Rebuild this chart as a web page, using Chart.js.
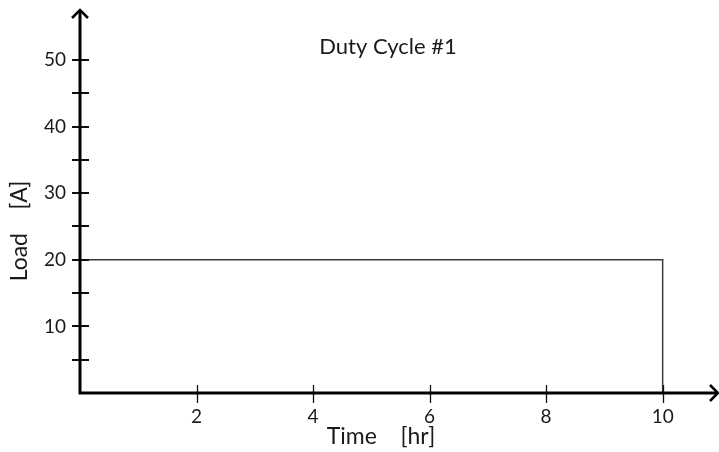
<!DOCTYPE html>
<html>
<head>
<meta charset="utf-8">
<script src="https://cdn.jsdelivr.net/npm/chart.js@4.4.1/dist/chart.umd.min.js"></script>
<style>
  html, body { margin: 0; padding: 0; background: #fff; }
  #wrap { width: 719px; height: 452px; }
</style>
</head>
<body>
<div id="wrap"><canvas id="dutyChart"></canvas></div>
<script>
// datos del ciclo de carga
const timeHr = [0, 10, 10];
const loadA = [20, 20, 0];
const xTickValues = [2, 4, 6, 8, 10];
const yTickValues = [5, 10, 15, 20, 25, 30, 35, 40, 45, 50];
const yLabelValues = [10, 20, 30, 40, 50];
const chartTitle = "Duty Cycle #1";
const xTitle = "Time    [hr]";
const yTitle = "Load    [A]";

const FONT = "Lato, 'Open Sans', sans-serif";
const TEXT = '#1a1a1a';

// ejes con flechas, marcas que cruzan el eje y textos
const axesPlugin = {
    id: 'axesArrows',
    afterDraw(chart) {
        const { ctx, chartArea: { left, right, top, bottom }, scales: { x, y } } = chart;
        ctx.save();

        ctx.strokeStyle = '#111';
        ctx.lineWidth = 2;
        yTickValues.forEach(v => {
            const py = Math.round(y.getPixelForValue(v));
            ctx.beginPath();
            ctx.moveTo(left - 8, py);
            ctx.lineTo(left + 9, py);
            ctx.stroke();
        });
        ctx.lineWidth = 1.3;
        xTickValues.forEach(v => {
            const px = Math.round(x.getPixelForValue(v)) + 0.5;
            ctx.beginPath();
            ctx.moveTo(px, bottom - 8);
            ctx.lineTo(px, bottom + 10);
            ctx.stroke();
        });

        // ejes
        ctx.strokeStyle = '#000';
        ctx.lineWidth = 3;
        ctx.beginPath();
        ctx.moveTo(left, bottom);
        ctx.lineTo(left, top + 1);
        ctx.moveTo(left - 1.5, bottom);
        ctx.lineTo(right - 1, bottom);
        ctx.stroke();

        // flechas
        ctx.lineWidth = 2.6;
        ctx.lineJoin = 'miter';
        ctx.beginPath();
        ctx.moveTo(left - 8, top + 8);
        ctx.lineTo(left, top);
        ctx.lineTo(left + 8, top + 8);
        ctx.moveTo(right - 8, bottom - 8);
        ctx.lineTo(right, bottom);
        ctx.lineTo(right - 8, bottom + 8);
        ctx.stroke();

        // textos
        ctx.fillStyle = TEXT;
        ctx.textAlign = 'center';
        ctx.textBaseline = 'middle';
        ctx.font = `22px ${FONT}`;
        ctx.fillText(chartTitle, 388, 47);
        ctx.font = `23px ${FONT}`;
        ctx.fillText(xTitle, 381, 437);
        ctx.translate(20, 231);
        ctx.rotate(-Math.PI / 2);
        ctx.fillText(yTitle, 0, 0);
        ctx.restore();
    }
};

const data = {
    datasets: [{
        data: timeHr.map((t, i) => ({ x: t, y: loadA[i] })),
        borderColor: '#3a3a3a',
        borderWidth: 1.5,
        pointRadius: 0,
        fill: false,
        tension: 0
    }]
};

const options = {
    responsive: true,
    maintainAspectRatio: false,
    animation: false,
    layout: { padding: { top: 10, right: 1, left: 0, bottom: 0 } },
    plugins: {
        legend: { display: false },
        tooltip: { enabled: false }
    },
    scales: {
        x: {
            type: 'linear',
            min: 0,
            max: 10.95,
            afterFit: s => { s.height = 59; s.paddingLeft = 0; s.paddingRight = 0; },
            afterBuildTicks: s => { s.ticks = xTickValues.map(v => ({ value: v })); },
            grid: { display: false, drawTicks: false },
            border: { display: false },
            ticks: {
                autoSkip: false,
                maxRotation: 0,
                padding: 12,
                color: TEXT,
                font: { family: FONT, size: 19 }
            }
        },
        y: {
            min: 0,
            max: 57.5,
            afterFit: s => { s.width = 80; s.paddingTop = 0; s.paddingBottom = 0; },
            afterBuildTicks: s => { s.ticks = yTickValues.map(v => ({ value: v })); },
            grid: { display: false, drawTicks: false },
            border: { display: false },
            ticks: {
                autoSkip: false,
                padding: 14,
                color: TEXT,
                font: { family: FONT, size: 19 },
                callback: v => yLabelValues.includes(v) ? v : ''
            }
        }
    }
};

new Chart("dutyChart", { type: "line", data, options, plugins: [axesPlugin] });
</script>
</body>
</html>
